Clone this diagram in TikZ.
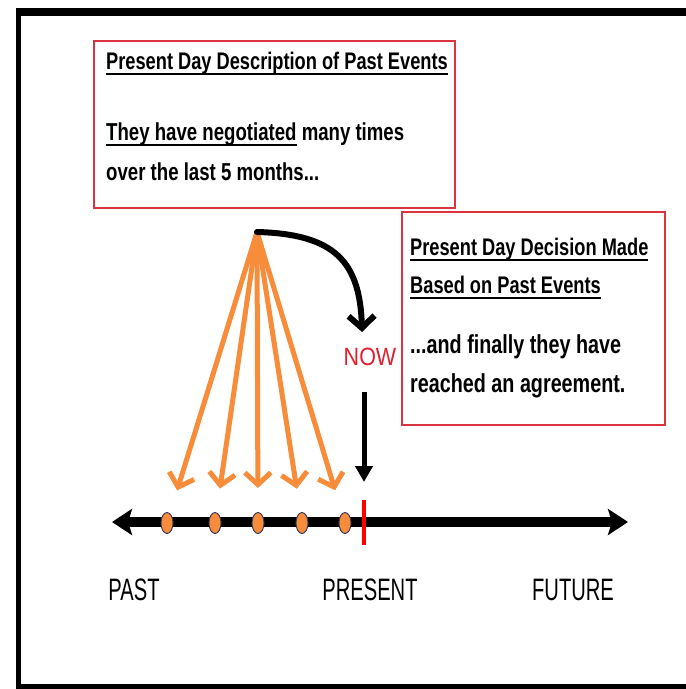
\documentclass[tikz,border=0pt]{standalone}
\usepackage{fontspec}
\usetikzlibrary{arrows.meta,shapes.geometric}
\newfontfamily\comicfont{Liberation Sans}[FakeStretch=0.76]
\newfontfamily\labelfont{Liberation Sans}[FakeStretch=0.65]
\newfontfamily\nowfont{Liberation Sans}[FakeStretch=0.86]
\definecolor{boxred}{RGB}{220,52,62}
\definecolor{fanorange}{RGB}{247,141,58}
\definecolor{nowred}{RGB}{226,30,46}
\definecolor{dotedge}{RGB}{60,60,100}
\newsavebox\ulbox
\newcommand{\ulined}[1]{\sbox\ulbox{#1}\rlap{\rule[-6pt]{\wd\ulbox}{2.5pt}}\usebox\ulbox}

\begin{document}
\begin{tikzpicture}[x=1pt, y=-1pt,
    textbox/.style={draw=boxred, line width=2.5pt},
    boxtext/.style={anchor=base west, inner sep=0pt, font=\comicfont\bfseries\fontsize{24}{28}\selectfont},
    timelabel/.style={anchor=base, inner sep=0pt, font=\labelfont\fontsize{31}{36}\selectfont},
    fan/.style={fanorange, line width=5pt, line cap=round, -{Straight Barb[length=12pt,width=26pt]}, shorten >=24pt},
    event/.style={ellipse, draw=dotedge, line width=1pt, fill=fanorange, minimum width=12pt, minimum height=21pt, inner sep=0pt}]
    \useasboundingbox (0,0) rectangle (686,689);
    \fill[white] (0,0) rectangle (686,689);
    \draw[line width=8pt] (700,12) -- (18,12);
    \draw[line width=5pt] (18,8) -- (18,686) -- (700,686);

    \draw[textbox] (94,41) rectangle (455,208);
    \node[boxtext] (desctitle) at (106,69) {\ulined{Present Day Description of Past Events}};
    \node[boxtext, font=\comicfont\bfseries\fontsize{24.5}{30}\selectfont] (descone) at (106,140) {\ulined{They have negotiated} many times};
    \node[boxtext, font=\comicfont\bfseries\fontsize{24.5}{30}\selectfont] (desctwo) at (106,180) {over the last 5 months...};

    \draw[textbox] (402,212) rectangle (665,425);
    \node[boxtext] (dectitle) at (410,255) {\ulined{Present Day Decision Made}};
    \node[boxtext] (dectitletwo) at (410,293) {\ulined{Based on Past Events}};
    \node[boxtext, font=\comicfont\bfseries\fontsize{26}{30}\selectfont] (decone) at (410,353) {...and finally they have};
    \node[boxtext, font=\comicfont\bfseries\fontsize{26}{30}\selectfont] (dectwo) at (410,392) {reached an agreement.};

    \node[nowred, inner sep=0pt, font=\nowfont\fontsize{25}{30}\selectfont] (now) at (370,357) {NOW};

    \coordinate (past) at (112,522);
    \coordinate (future) at (628,522);
    \draw[line width=10pt, {Stealth[length=20pt,width=26pt,inset=4pt]}-{Stealth[length=20pt,width=26pt,inset=4pt]}] (past) -- (future);
    \coordinate (present) at (364,522);
    \draw[red, line width=4pt] (364,500) -- (364,545);

    \node[event] (e1) at (167,523) {};
    \node[event] (e2) at (215,523) {};
    \node[event] (e3) at (258,523) {};
    \node[event] (e4) at (302,523) {};
    \node[event] (e5) at (345,523) {};

    \coordinate (apex) at (257,232);
    \foreach \e in {e1,e2,e3,e4,e5}
        \draw[fan] (apex) -- (\e);

    \coordinate (bendend) at (362,332);
    \draw[line width=6pt, line cap=round, -{Straight Barb[length=12pt,width=26pt]}] (apex) .. controls (335,234) and (360,262) .. (bendend);
    \coordinate (nowdown) at (364,392);
    \draw[line width=5pt, -{Triangle[length=16pt,width=17pt]}] (nowdown) -- ([yshift=40pt]present);

    \node[timelabel] (pastlabel) at (134,600) {PAST};
    \node[timelabel] (presentlabel) at (370,600) {PRESENT};
    \node[timelabel] (futurelabel) at (573,600) {FUTURE};
\end{tikzpicture}
\end{document}
